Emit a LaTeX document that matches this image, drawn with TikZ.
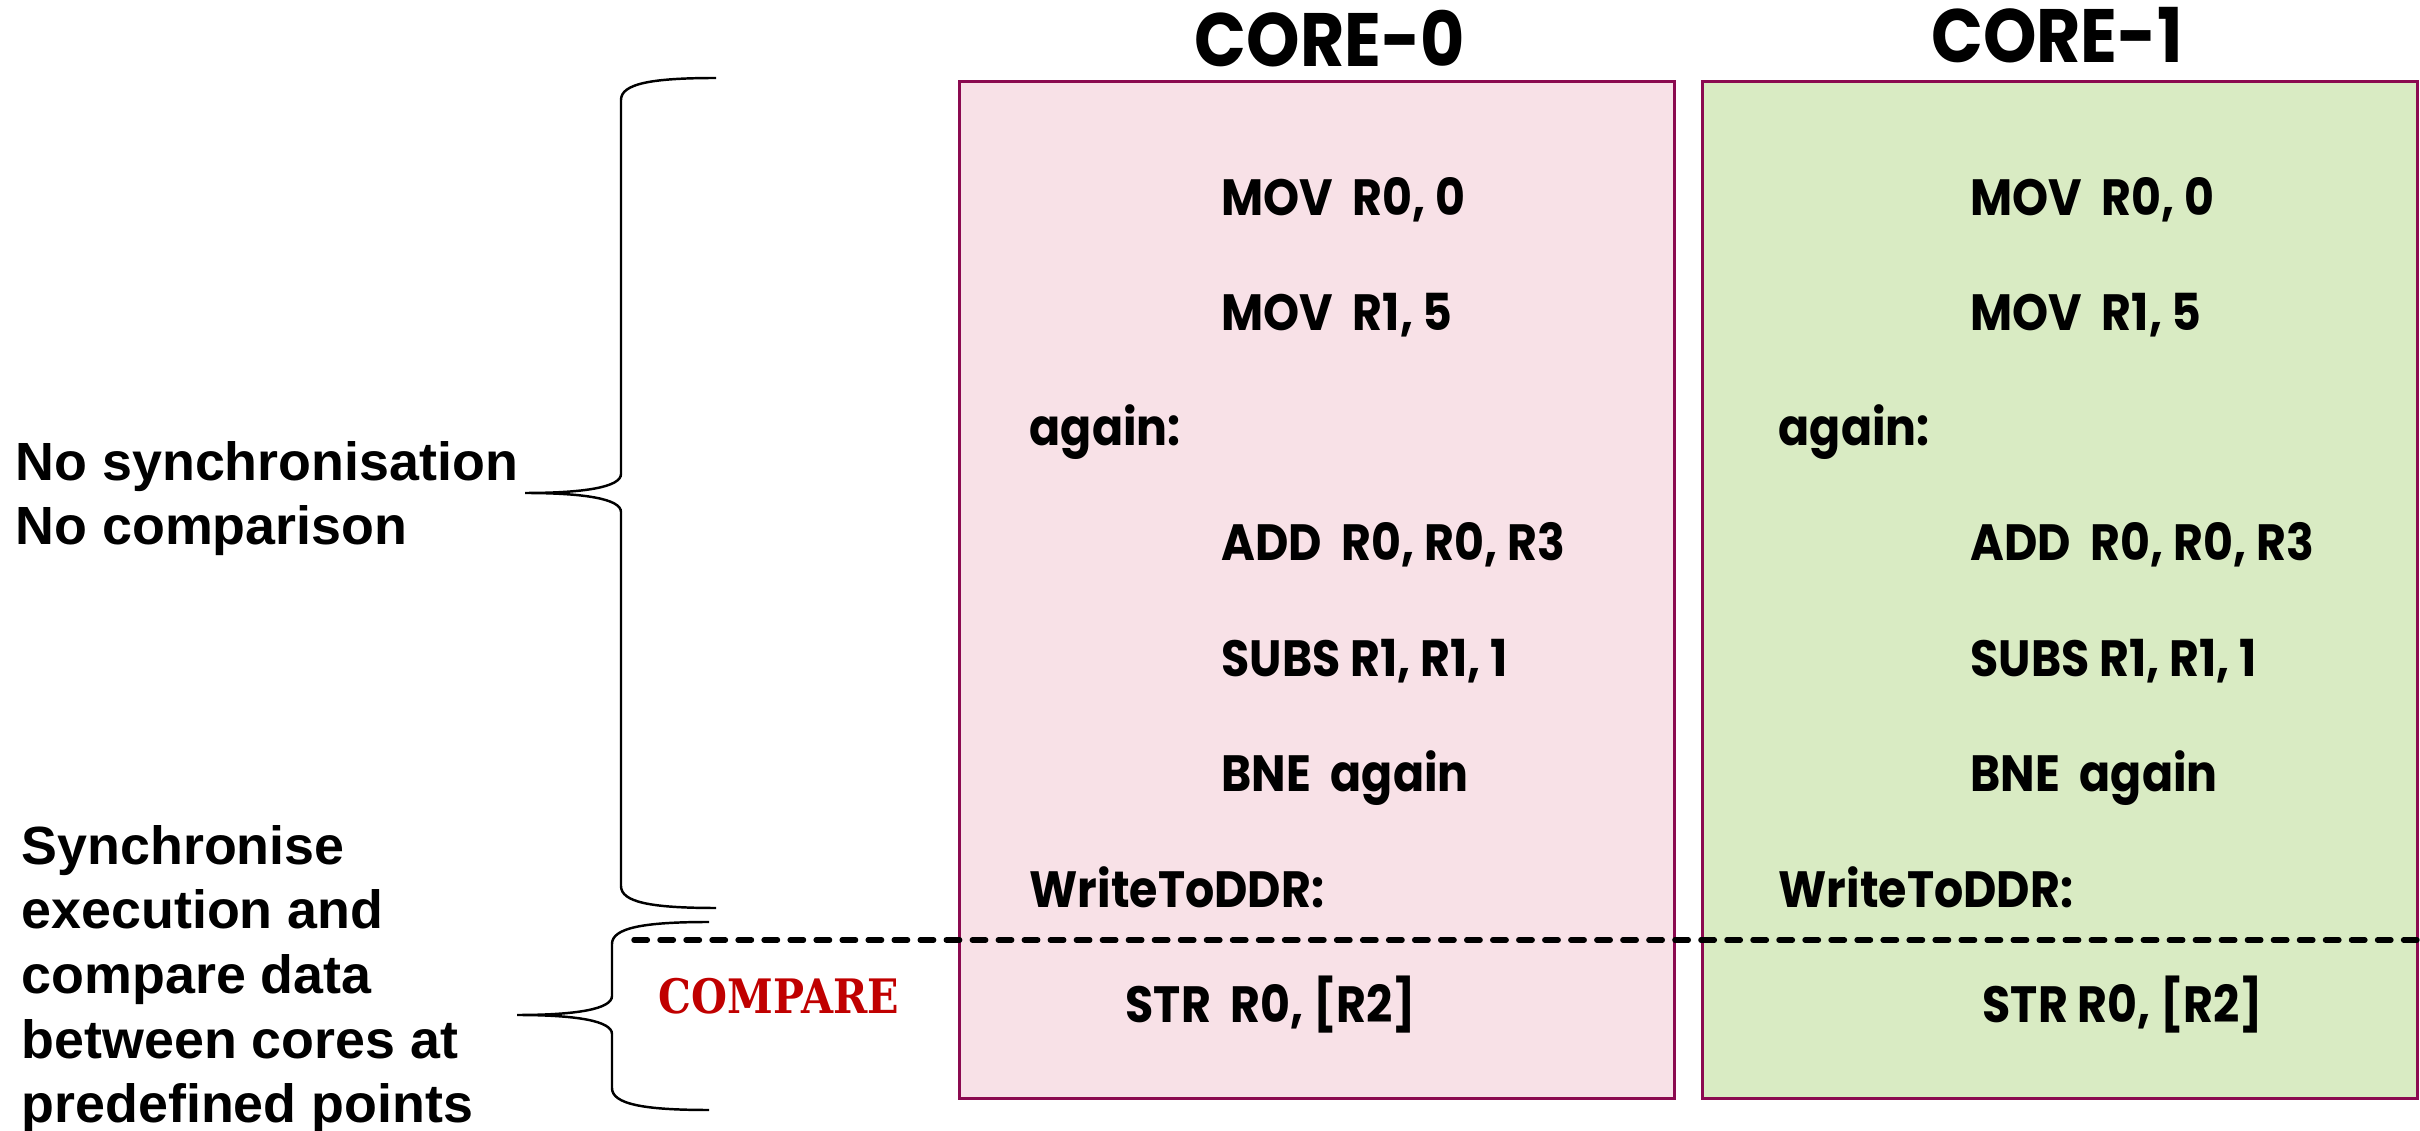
\documentclass[tikz,border=0pt]{standalone}
\usepackage{fontspec}
\usepackage{tikz}
\usetikzlibrary{positioning}
\usepackage{xcolor}
\newfontfamily\armfont{Liberation Sans}
\newfontfamily\gothfont{Poppins}[FakeStretch=0.9]
\newfontfamily\slabfont{DejaVu Serif}[FakeStretch=0.87]

\definecolor{coreline}{HTML}{8B0A50}
\definecolor{corepink}{HTML}{F8E1E7}
\definecolor{coregreen}{HTML}{D9EBC3}
\definecolor{cmpred}{HTML}{C00000}

\tikzset{
  corebox/.style   = {draw=coreline, line width=0.85pt, rectangle,
                      minimum width=7.14cm, minimum height=10.16cm},
  coretitle/.style = {anchor=base, inner sep=0pt,
                      font=\gothfont\bfseries\fontsize{21.5}{24}\selectfont},
  instr/.style     = {anchor=base west, inner sep=0pt,
                      font=\gothfont\bfseries\fontsize{14.5}{17}\selectfont},
  sidenote/.style  = {anchor=base west, inner sep=0pt, align=left,
                      font=\armfont\bfseries\fontsize{15.3}{18.4}\selectfont},
  bracepath/.style = {draw, line width=0.7pt},
  syncline/.style  = {draw, line width=1.55pt, line cap=round,
                      dash pattern=on 3.8pt off 3.6pt}
}

\begin{document}
\begin{tikzpicture}[x=0.01cm, y=-0.01cm]
\useasboundingbox (0,0) rectangle (2420,1131);

% the two cores
\node[corebox, fill=corepink] (c0) at (1317,590) {};
\node[corebox, fill=coregreen] (c1) at (2060,590) {};
\node[coretitle] (t0) at (1330,67) {CORE-0};
\node[coretitle] (t1) at (2057,63) {CORE-1};

% code of core 0
\node[instr] (movA0) at (1221,216) {MOV\ \ R0, 0};
\node[instr] (movB0) at (1221,331) {MOV\ \ R1, 5};
\node[instr] (again0) at (1029,446) {again:};
\node[instr] (add0) at (1221,561) {ADD\ \ R0, R0, R3};
\node[instr] (subs0) at (1221,677) {SUBS R1, R1, 1};
\node[instr] (bne0) at (1221,792) {BNE\ \ again};
\node[instr] (write0) at (1029,908) {WriteToDDR:};
\node[instr] (str0) at (1125,1023) {STR\ \ R0, [R2]};

% code of core 1
\node[instr] (movA1) at (1970,216) {MOV\ \ R0, 0};
\node[instr] (movB1) at (1970,331) {MOV\ \ R1, 5};
\node[instr] (again1) at (1778,446) {again:};
\node[instr] (add1) at (1970,561) {ADD\ \ R0, R0, R3};
\node[instr] (subs1) at (1970,677) {SUBS R1, R1, 1};
\node[instr] (bne1) at (1970,792) {BNE\ \ again};
\node[instr] (write1) at (1778,908) {WriteToDDR:};
\node[instr] (str1) at (1982,1023) {STR R0, [R2]};

% left notes (base = last line)
\node[sidenote] (free) at (15,545) {No synchronisation\\No comparison};
\node[sidenote] (sync) at (21,1123) {Synchronise\\execution and\\compare data\\between cores at\\predefined points};
\node[anchor=base west, inner sep=0pt, text=cmpred,
      font=\slabfont\bfseries\fontsize{13.5}{16}\selectfont] (cmp) at (658,1014) {COMPARE};

% braces
\coordinate (bigtop) at (716,78);
\coordinate (bigtip) at (525,493);
\coordinate (bigbot) at (716,908);
\path[bracepath] (bigtop) .. controls (650,78) and (621,84) .. (621,100) -- (621,474)
  .. controls (621,487) and (585,493) .. (bigtip)
  .. controls (585,493) and (621,499) .. (621,512) -- (621,886)
  .. controls (621,902) and (650,908) .. (bigbot);

\coordinate (smalltop) at (709,922);
\coordinate (smalltip) at (517,1015);
\coordinate (smallbot) at (709,1110);
\path[bracepath] (smalltop) .. controls (643,922) and (612,928) .. (612,944) -- (612,996)
  .. controls (612,1009) and (577,1015) .. (smalltip)
  .. controls (577,1015) and (612,1021) .. (612,1034) -- (612,1088)
  .. controls (612,1104) and (643,1110) .. (smallbot);

% sync point
\coordinate (syncL) at (634,940);
\coordinate (syncR) at (2420,940);
\path[syncline] (syncL) -- (syncR);

\end{tikzpicture}
\end{document}
